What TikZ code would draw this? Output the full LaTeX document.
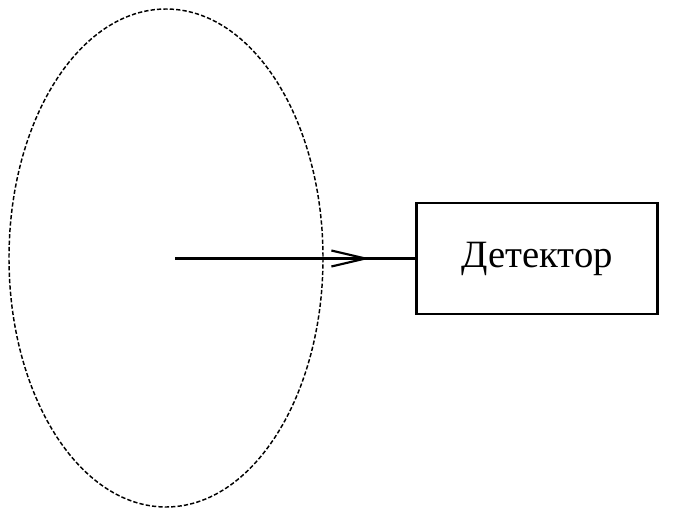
\documentclass[tikz,border=0pt]{standalone}
\usepackage{fontspec}
\setmainfont{Liberation Serif}
\usetikzlibrary{decorations.markings}
\begin{document}
\begin{tikzpicture}[x=0.75pt,y=-0.75pt,
  region/.style={draw, line width=1.1pt, dash pattern=on 3.2pt off 1.6pt},
  detbox/.style={draw, line width=2.1pt, minimum width=180.75pt, minimum height=83.25pt, inner sep=0pt, font=\fontsize{29}{32}\selectfont},
  ray/.style={line width=2.1pt, postaction={decorate}, decoration={markings, mark=at position 0.793 with {\draw[line width=1.6pt, line join=miter] (-34,-8) -- (0,0) -- (-34,8);}}}]
\useasboundingbox (0,0) rectangle (675,517);
\draw[region] (166,258) ellipse [x radius=157, y radius=249];
\coordinate (c) at (175,258.5);
\node[detbox] (d) at (537,258.5) {Детектор};
\draw[ray] (c) -- (d.west);
\end{tikzpicture}
\end{document}
